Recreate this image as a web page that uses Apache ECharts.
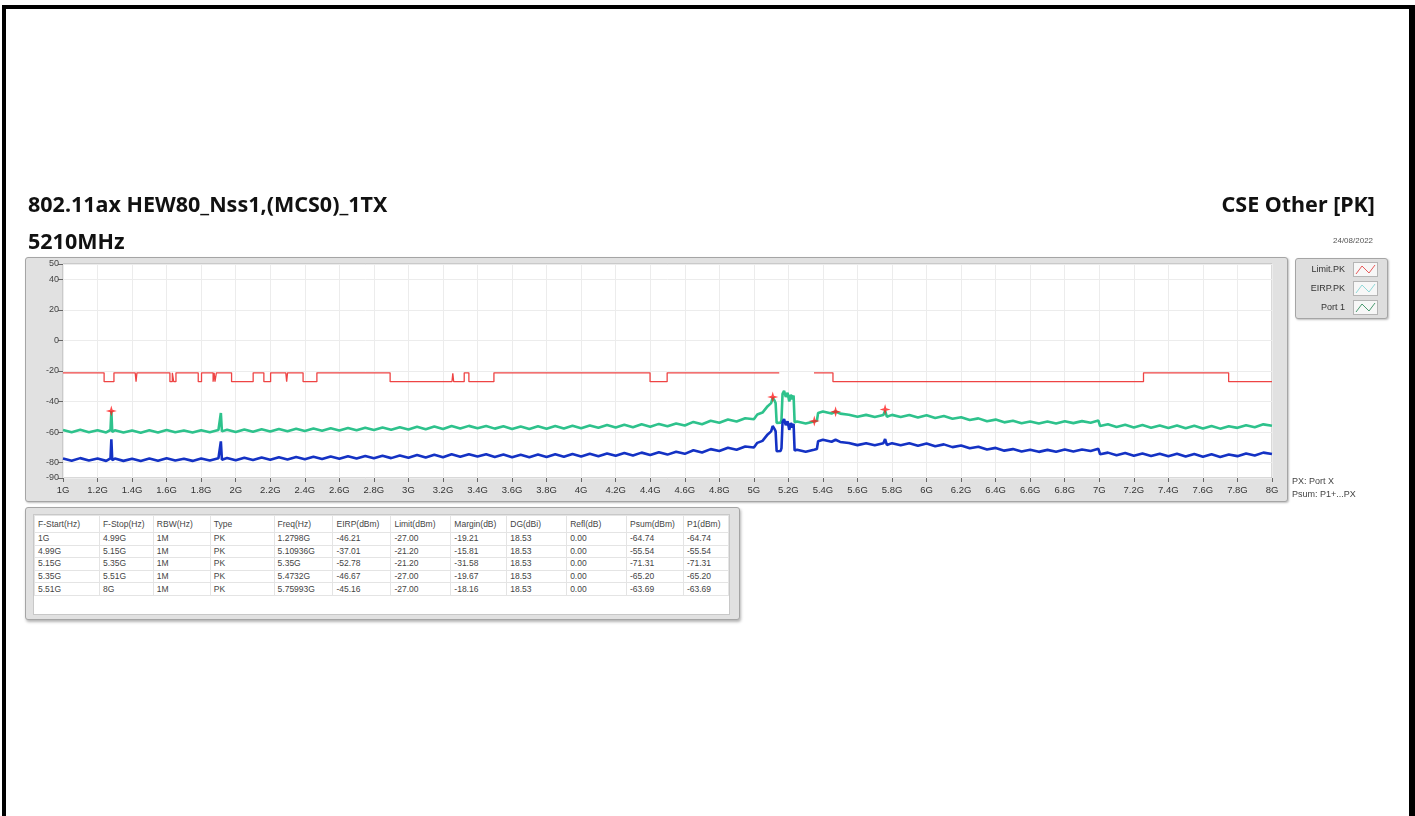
<!DOCTYPE html>
<html><head><meta charset="utf-8">
<script src="https://cdn.jsdelivr.net/npm/echarts@6/dist/echarts.min.js"></script>
<style>
html,body{margin:0;padding:0;background:#fff;width:1415px;height:816px;overflow:hidden;font-family:"Noto Sans",sans-serif;}
#frame{position:absolute;left:2px;top:5px;width:1403px;height:900px;border-left:4px solid #000;border-top:4px solid #000;border-right:6px solid #000;z-index:3;pointer-events:none;}
#panel{position:absolute;left:25px;top:257px;width:1261px;height:243px;background:#e1e1e1;border:1px solid #a5a5a5;border-radius:3px;box-shadow:1px 1px 2px rgba(0,0,0,0.25);z-index:0;}
#chart{position:absolute;left:0;top:0;width:1415px;height:816px;z-index:1;}
.t{position:absolute;z-index:2;white-space:nowrap;}
.big{font-family:"Noto Sans",sans-serif;font-weight:bold;font-size:21.5px;color:#111;}
.small{font-family:"Liberation Sans",Arial,sans-serif;font-size:9px;color:#444;}
#legend{position:absolute;left:1295px;top:258px;width:91px;height:59px;background:#dedede;border:1px solid #a5a5a5;border-radius:3px;box-shadow:1px 1px 2px rgba(0,0,0,0.25);z-index:2;}
.lrow{position:absolute;left:0;width:91px;height:16px;}
.lrow span{position:absolute;right:42px;top:2px;font-family:"Liberation Sans",Arial,sans-serif;font-size:9px;color:#333;}
.lrow svg{position:absolute;left:57px;top:0;background:#f7f7f7;border:1px solid #b5b5b5;}
#tpanel{position:absolute;left:25px;top:507px;width:713px;height:111px;background:#e1e1e1;border:1px solid #a5a5a5;border-radius:3px;box-shadow:1px 2px 3px rgba(0,0,0,0.3);z-index:2;}
#tbl{position:absolute;left:7px;top:6px;width:695px;height:99px;background:#fff;border:1px solid #c8c8c8;}
table{border-collapse:collapse;font-family:"Liberation Sans",Arial,sans-serif;font-size:8.5px;color:#444;table-layout:fixed;}
td{border:1px solid #e4e4e4;padding:0 0 0 3px;height:11.6px;line-height:11px;white-space:nowrap;overflow:hidden;}
tr.h td{height:16px;}
</style></head>
<body>
<div id="frame"></div>
<div id="panel"></div>
<div id="chart"></div>
<div class="t big" style="left:28px;top:189px;">802.11ax HEW80_Nss1,(MCS0)_1TX</div>
<div class="t big" style="left:28px;top:226px;">5210MHz</div>
<div class="t big" style="right:40px;top:189px;">CSE Other [PK]</div>
<div class="t small" style="left:1333px;top:236px;font-size:8px;color:#555;">24/08/2022</div>
<div class="t small" style="left:1292px;top:476px;">PX: Port X</div>
<div class="t small" style="left:1292px;top:489px;">Psum: P1+...PX</div>
<div id="legend"></div>
<div id="tpanel"><div id="tbl"></div></div>
<script>
// ---------- data ----------
const seriesNames = ['Limit.PK', 'EIRP.PK', 'Port 1'];
const seriesColors = ['#ee4444', '#2ec28c', '#1432c4'];
const legendIconColors = ['#e85a5a', '#8fd8d8', '#4a9a70'];

const xTickValues = [1,1.2,1.4,1.6,1.8,2,2.2,2.4,2.6,2.8,3,3.2,3.4,3.6,3.8,4,4.2,4.4,4.6,4.8,5,5.2,5.4,5.6,5.8,6,6.2,6.4,6.6,6.8,7,7.2,7.4,7.6,7.8,8];
const xTickLabels = ['1G','1.2G','1.4G','1.6G','1.8G','2G','2.2G','2.4G','2.6G','2.8G','3G','3.2G','3.4G','3.6G','3.8G','4G','4.2G','4.4G','4.6G','4.8G','5G','5.2G','5.4G','5.6G','5.8G','6G','6.2G','6.4G','6.6G','6.8G','7G','7.2G','7.4G','7.6G','7.8G','8G'];
const yTickValues = [50,40,20,0,-20,-40,-60,-80,-90];

// Limit line [GHz, dBm]
const limitTrace = [
 [1.0,-21.2],[1.238,-21.2],[1.238,-27],[1.295,-27],[1.295,-21.2],
 [1.418,-21.2],[1.423,-27],[1.428,-21.2],
 [1.619,-21.2],[1.619,-27],[1.633,-27],[1.633,-21.2],[1.641,-21.2],[1.641,-27],[1.654,-27],[1.654,-21.2],
 [1.783,-21.2],[1.783,-27],[1.802,-27],[1.802,-21.2],
 [1.869,-21.2],[1.869,-27],[1.875,-27],[1.875,-21.2],[1.880,-21.2],[1.880,-27],[1.888,-27],[1.888,-21.2],
 [1.976,-21.2],[1.976,-27],[2.101,-27],[2.101,-21.2],
 [2.163,-21.2],[2.163,-27],[2.202,-27],[2.202,-21.2],
 [2.290,-21.2],[2.295,-27],[2.300,-21.2],
 [2.390,-21.2],[2.390,-27],[2.470,-27],[2.470,-21.2],
 [2.894,-21.2],[2.894,-27],
 [3.252,-27],[3.257,-21.5],[3.262,-27],
 [3.323,-27],[3.323,-21.2],[3.350,-21.2],[3.350,-27],
 [3.495,-27],[3.495,-21.2],
 [4.399,-21.2],[4.399,-27],[4.498,-27],[4.498,-21.2],
 [5.147,-21.2],[5.25,'-'],[5.348,-21.2],[5.458,-21.2],[5.458,-27],
 [7.256,-27],[7.256,-21.2],[7.749,-21.2],[7.749,-27],[8.0,-27]
];

// EIRP.PK trace [GHz, dBm]
const eirpTrace = [
 [1.00,-58.6],[1.05,-60.1],[1.10,-58.5],[1.15,-60.0],[1.20,-58.7],[1.25,-60.2],[1.275,-58.6],[1.28,-46.2],[1.285,-59.8],
 [1.30,-58.8],[1.35,-60.3],[1.40,-58.9],[1.45,-60.4],[1.50,-58.8],[1.55,-60.2],[1.60,-58.6],[1.65,-60.1],[1.70,-58.9],
 [1.75,-60.3],[1.80,-58.7],[1.85,-60.0],[1.90,-58.6],[1.908,-59.8],[1.914,-47.5],[1.92,-59.5],[1.95,-58.4],[2.00,-59.9],
 [2.05,-58.2],[2.10,-59.7],[2.15,-58.1],[2.20,-59.6],[2.25,-57.9],[2.30,-59.4],[2.35,-57.8],[2.40,-59.2],[2.45,-57.6],
 [2.50,-59.1],[2.55,-57.4],[2.60,-58.9],[2.65,-57.3],[2.70,-58.8],[2.75,-57.1],[2.80,-58.6],[2.85,-57.0],[2.90,-58.5],
 [2.95,-56.8],[3.00,-58.3],[3.05,-56.5],[3.10,-58.1],[3.15,-56.3],[3.20,-57.9],[3.25,-56.0],[3.30,-57.6],[3.35,-55.9],
 [3.40,-57.5],[3.45,-56.0],[3.50,-57.7],[3.55,-56.2],[3.60,-57.9],[3.65,-56.3],[3.70,-57.9],[3.75,-56.2],[3.80,-57.8],
 [3.85,-56.0],[3.90,-57.6],[3.95,-55.8],[4.00,-57.4],[4.05,-55.6],[4.10,-57.2],[4.15,-55.4],[4.20,-57.0],[4.25,-55.2],
 [4.30,-56.8],[4.35,-54.9],[4.40,-56.5],[4.45,-54.6],[4.50,-56.2],[4.55,-54.3],[4.60,-55.7],[4.65,-53.3],[4.70,-54.8],
 [4.75,-52.6],[4.80,-53.8],[4.85,-51.7],[4.90,-53.0],[4.95,-50.9],[5.00,-51.6],[5.02,-48.5],[5.05,-47.2],[5.08,-43.0],
 [5.10,-41.0],[5.109,-37.5],[5.12,-39.5],[5.126,-41.0],[5.132,-54.0],[5.155,-53.8],[5.160,-52.0],[5.166,-35.0],
 [5.175,-33.0],[5.185,-37.0],[5.195,-34.3],[5.205,-40.0],[5.214,-35.5],[5.222,-38.5],[5.230,-36.0],[5.236,-53.5],
 [5.25,-53.0],[5.30,-54.3],[5.348,-53.0],[5.365,-52.5],[5.372,-47.5],[5.40,-46.5],[5.45,-47.8],[5.473,-46.5],[5.50,-47.9],
 [5.505,-49.2],[5.55,-48.6],[5.60,-50.0],[5.65,-48.7],[5.70,-50.1],[5.75,-48.8],[5.76,-46.0],[5.77,-49.9],[5.80,-48.7],
 [5.85,-50.1],[5.90,-48.8],[5.95,-50.4],[6.00,-49.0],[6.05,-50.7],[6.10,-49.5],[6.15,-51.3],[6.20,-50.2],[6.25,-52.1],
 [6.30,-51.0],[6.35,-52.9],[6.40,-51.8],[6.45,-53.6],[6.50,-52.6],[6.55,-54.2],[6.60,-53.0],[6.65,-54.4],[6.70,-53.1],
 [6.75,-54.3],[6.80,-52.9],[6.85,-54.1],[6.90,-52.8],[6.95,-53.8],[6.995,-52.4],[7.005,-56.0],[7.05,-54.9],[7.10,-56.6],
 [7.15,-55.2],[7.20,-56.9],[7.25,-55.4],[7.30,-57.1],[7.35,-55.6],[7.40,-57.3],[7.45,-55.7],[7.50,-57.5],[7.55,-55.8],
 [7.60,-57.6],[7.65,-56.0],[7.70,-57.7],[7.75,-56.1],[7.80,-57.2],[7.85,-55.5],[7.90,-56.8],[7.95,-54.9],[8.00,-55.8]
];

// Port 1 trace [GHz, dBm]
const port1Trace = [
 [1.00,-77.2],[1.05,-78.7],[1.10,-77.0],[1.15,-78.5],[1.20,-77.3],[1.25,-78.8],[1.275,-77.1],[1.28,-64.7],[1.285,-78.3],
 [1.30,-77.3],[1.35,-78.8],[1.40,-77.4],[1.45,-78.9],[1.50,-77.3],[1.55,-78.7],[1.60,-77.1],[1.65,-78.6],[1.70,-77.4],
 [1.75,-78.8],[1.80,-77.2],[1.85,-78.5],[1.90,-77.1],[1.908,-78.3],[1.914,-66.0],[1.92,-78.0],[1.95,-76.9],[2.00,-78.4],
 [2.05,-76.7],[2.10,-78.2],[2.15,-76.6],[2.20,-78.1],[2.25,-76.4],[2.30,-77.9],[2.35,-76.3],[2.40,-77.7],[2.45,-76.1],
 [2.50,-77.6],[2.55,-75.9],[2.60,-77.4],[2.65,-75.8],[2.70,-77.3],[2.75,-75.6],[2.80,-77.1],[2.85,-75.5],[2.90,-77.0],
 [2.95,-75.3],[3.00,-76.8],[3.05,-75.0],[3.10,-76.6],[3.15,-74.8],[3.20,-76.4],[3.25,-74.5],[3.30,-76.1],[3.35,-74.4],
 [3.40,-76.0],[3.45,-74.5],[3.50,-76.2],[3.55,-74.7],[3.60,-76.4],[3.65,-74.8],[3.70,-76.4],[3.75,-74.7],[3.80,-76.3],
 [3.85,-74.5],[3.90,-76.1],[3.95,-74.3],[4.00,-75.9],[4.05,-74.1],[4.10,-75.7],[4.15,-73.9],[4.20,-75.5],[4.25,-73.7],
 [4.30,-75.3],[4.35,-73.4],[4.40,-75.0],[4.45,-73.1],[4.50,-74.7],[4.55,-72.8],[4.60,-74.2],[4.65,-71.8],[4.70,-73.3],
 [4.75,-71.1],[4.80,-72.3],[4.85,-70.2],[4.90,-71.5],[4.95,-69.4],[5.00,-70.1],[5.02,-67.0],[5.05,-65.7],[5.08,-61.5],
 [5.10,-59.5],[5.109,-56.0],[5.12,-58.0],[5.126,-59.5],[5.132,-72.5],[5.155,-72.3],[5.160,-70.5],[5.166,-53.5],
 [5.175,-51.5],[5.185,-55.5],[5.195,-52.8],[5.205,-58.5],[5.214,-54.0],[5.222,-57.0],[5.230,-54.5],[5.236,-72.0],
 [5.25,-71.5],[5.30,-72.8],[5.348,-71.5],[5.365,-71.0],[5.372,-66.0],[5.40,-65.0],[5.45,-66.3],[5.473,-65.0],[5.50,-66.4],
 [5.505,-67.7],[5.55,-67.1],[5.60,-68.5],[5.65,-67.2],[5.70,-68.6],[5.75,-67.3],[5.76,-64.5],[5.77,-68.4],[5.80,-67.2],
 [5.85,-68.6],[5.90,-67.3],[5.95,-68.9],[6.00,-67.5],[6.05,-69.2],[6.10,-68.0],[6.15,-69.8],[6.20,-68.7],[6.25,-70.6],
 [6.30,-69.5],[6.35,-71.4],[6.40,-70.3],[6.45,-72.1],[6.50,-71.1],[6.55,-72.7],[6.60,-71.5],[6.65,-72.9],[6.70,-71.6],
 [6.75,-72.8],[6.80,-71.4],[6.85,-72.6],[6.90,-71.3],[6.95,-72.3],[6.995,-70.9],[7.005,-74.5],[7.05,-73.4],[7.10,-75.1],
 [7.15,-73.7],[7.20,-75.4],[7.25,-73.9],[7.30,-75.6],[7.35,-74.1],[7.40,-75.8],[7.45,-74.2],[7.50,-76.0],[7.55,-74.3],
 [7.60,-76.1],[7.65,-74.5],[7.70,-76.2],[7.75,-74.6],[7.80,-75.7],[7.85,-74.0],[7.90,-75.3],[7.95,-73.4],[8.00,-74.3]
];

// Result table
const tableHeaders = ['F-Start(Hz)','F-Stop(Hz)','RBW(Hz)','Type','Freq(Hz)','EIRP(dBm)','Limit(dBm)','Margin(dB)','DG(dBi)','Refl(dB)','Psum(dBm)','P1(dBm)'];
const fStart = ['1G','4.99G','5.15G','5.35G','5.51G'];
const fStop = ['4.99G','5.15G','5.35G','5.51G','8G'];
const rbw = ['1M','1M','1M','1M','1M'];
const detType = ['PK','PK','PK','PK','PK'];
const peakFreqLabel = ['1.2798G','5.10936G','5.35G','5.4732G','5.75993G'];
const peakFreqGHz = [1.2798, 5.10936, 5.35, 5.4732, 5.75993];
const eirpPeak = [-46.21, -37.01, -52.78, -46.67, -45.16];
const limitVal = [-27.00, -21.20, -21.20, -27.00, -27.00];
const marginVal = [-19.21, -15.81, -31.58, -19.67, -18.16];
const dgVal = [18.53, 18.53, 18.53, 18.53, 18.53];
const reflVal = [0.00, 0.00, 0.00, 0.00, 0.00];
const psumVal = [-64.74, -55.54, -71.31, -65.20, -63.69];
const p1Val = [-64.74, -55.54, -71.31, -65.20, -63.69];

// ---------- table ----------
(function(){
  const widths = [65,54,57,64,59,58,60,56,60,60,57,45];
  let h = '<table><colgroup>' + widths.map(w=>'<col style="width:'+w+'px">').join('') + '</colgroup>';
  h += '<tr class="h">' + tableHeaders.map(t=>'<td>'+t+'</td>').join('') + '</tr>';
  for (let i=0;i<fStart.length;i++){
    const row = [fStart[i],fStop[i],rbw[i],detType[i],peakFreqLabel[i],eirpPeak[i].toFixed(2),limitVal[i].toFixed(2),
      marginVal[i].toFixed(2),dgVal[i].toFixed(2),reflVal[i].toFixed(2),psumVal[i].toFixed(2),p1Val[i].toFixed(2)];
    h += '<tr>' + row.map(t=>'<td>'+t+'</td>').join('') + '</tr>';
  }
  h += '</table>';
  document.getElementById('tbl').innerHTML = h;
})();

// ---------- legend ----------
(function(){
  const lg = document.getElementById('legend');
  let h = '';
  seriesNames.forEach((n,i)=>{
    h += '<div class="lrow" style="top:'+(3+i*19)+'px"><span>'+n+'</span>'+
      '<svg width="23" height="13" viewBox="0 0 23 13"><polyline points="2,11 8,3 15,10 21,2" fill="none" stroke="'+legendIconColors[i]+'" stroke-width="1"/></svg></div>';
  });
  lg.innerHTML = h;
})();

// ---------- chart ----------
const chart = echarts.init(document.getElementById('chart'), null, {renderer:'canvas'});
const starPath = 'path://M0,-10 L2.2,-2.2 L10,0 L2.2,2.2 L0,10 L-2.2,2.2 L-10,0 L-2.2,-2.2 Z';
const markerData = peakFreqGHz.map((f,i)=>[f, eirpPeak[i]]);

chart.setOption({
  animation: false,
  backgroundColor: 'transparent',
  grid: {left: 63, top: 264, width: 1209, height: 214, show: true, backgroundColor: '#ffffff', borderColor: '#b3b3b3', borderWidth: 1},
  xAxis: {
    type: 'value', min: 1, max: 8, interval: 0.2,
    axisLine: {show: false, onZero: false},
    axisTick: {show: true, length: 4, lineStyle: {color: '#666'}, customValues: xTickValues},
    axisLabel: {
      customValues: xTickValues, fontSize: 9.5, color: '#333', margin: 7, fontFamily: 'Liberation Sans',
      formatter: function(v){
        let best = 0, d = 1e9;
        xTickValues.forEach((t,i)=>{ const dd = Math.abs(t - v); if (dd < d){ d = dd; best = i; } });
        return xTickLabels[best];
      }
    },
    splitLine: {show: true, lineStyle: {color: '#ececec', width: 1}}
  },
  yAxis: {
    type: 'value', min: -90, max: 50, interval: 10,
    axisLine: {show: false, onZero: false},
    axisTick: {show: true, length: 5, lineStyle: {color: '#666'}, customValues: yTickValues},
    axisLabel: {customValues: yTickValues, fontSize: 9, color: '#444', margin: 4, fontFamily: 'Liberation Sans'},
    splitLine: {show: true, lineStyle: {color: '#ececec', width: 1}}
  },
  series: [
    {name: seriesNames[0], type: 'line', data: limitTrace, symbol: 'none', z: 3,
     lineStyle: {color: seriesColors[0], width: 1.3}, itemStyle: {color: seriesColors[0]}},
    {name: seriesNames[1], type: 'line', data: eirpTrace, symbol: 'none', z: 4,
     lineStyle: {color: seriesColors[1], width: 2.6}, itemStyle: {color: seriesColors[1]}},
    {name: seriesNames[2], type: 'line', data: port1Trace, symbol: 'none', z: 4,
     lineStyle: {color: seriesColors[2], width: 2.6}, itemStyle: {color: seriesColors[2]}},
    {name: 'Peak', type: 'scatter', data: markerData, symbol: starPath, symbolSize: 11, z: 6,
     itemStyle: {color: '#ff1e1e'}}
  ]
});
</script>
</body></html>
